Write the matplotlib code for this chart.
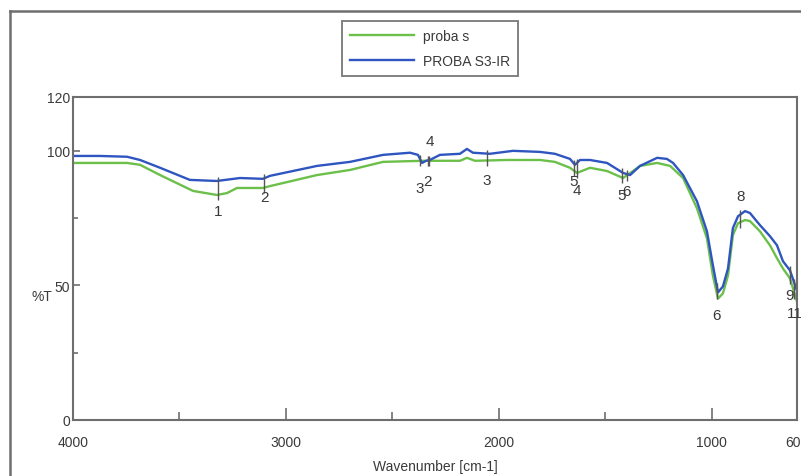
import numpy as np
import matplotlib
matplotlib.use("Agg")
import matplotlib.pyplot as plt
from matplotlib.lines import Line2D
from matplotlib.ticker import FixedLocator, NullFormatter

plt.rcParams['font.family'] = ['Liberation Sans', 'DejaVu Sans']

# "proba s" (green trace)
wn_s = [4000, 3746, 3685, 3591, 3436, 3324, 3277, 3230, 3108, 3075, 2854, 2699,
        2544, 2356, 2183, 2150, 2112, 1962, 1807, 1737, 1666, 1633, 1572, 1492,
        1417, 1370, 1337, 1257, 1196, 1135, 1070, 1023, 995, 971, 948, 924, 901,
        877, 844, 821, 774, 727, 694, 666, 633, 600]
t_s = [95.5, 95.5, 94.8, 91.0, 85.1, 83.6, 84.3, 86.2, 86.2, 86.9, 91.0, 92.9,
       95.9, 96.3, 96.3, 97.4, 96.3, 96.6, 96.6, 95.9, 93.7, 91.8, 93.7, 92.5,
       89.9, 92.5, 94.4, 95.5, 94.4, 89.9, 78.7, 67.5, 53.7, 45.1, 47.0, 53.7, 68.7,
       73.1, 74.3, 73.9, 70.1, 64.9, 60.1, 56.3, 52.6, 44.0]

# "PROBA S3-IR" (blue trace)
wn_ir = [4000, 3873, 3746, 3685, 3591, 3451, 3324, 3216, 3108, 3075, 2854, 2699,
         2544, 2417, 2380, 2361, 2342, 2324, 2277, 2183, 2150, 2122, 2042, 1934,
         1807, 1737, 1666, 1643, 1619, 1572, 1492, 1417, 1384, 1337, 1257, 1211,
         1182, 1135, 1070, 1023, 995, 971, 948, 924, 901, 877, 844, 821, 774, 727,
         694, 666, 633, 600]
t_ir = [98.1, 98.1, 97.8, 96.6, 93.7, 89.2, 88.8, 89.9, 89.6, 90.7, 94.4, 95.9,
        98.5, 99.3, 98.5, 95.5, 96.3, 96.6, 98.5, 98.9, 100.7, 99.3, 98.9, 100.0,
        99.6, 98.9, 97.0, 94.8, 96.6, 96.6, 95.5, 91.8, 91.0, 94.4, 97.4, 97.0,
        95.5, 91.0, 81.3, 70.1, 57.5, 47.4, 49.6, 56.3, 71.3, 75.7, 77.6, 76.9, 72.4,
        68.3, 64.9, 59.0, 55.6, 48.0]

# peak picks
peak_text = ["1", "2", "3", "2", "4", "3", "5", "4", "5", "6", "6", "8", "9", "11"]
peak_wn = [3318, 3103, 2370, 2333, 2326, 2056, 1648, 1634, 1424, 1400, 976, 866, 633, 612]
# label offset in pixels from the green trace
peak_dy = [-16, -9, -27, -20, 20, -20, -10, -17, -18, -16, -21, 26, -17, -20]

x_major = [4000, 3000, 2000, 1000, 600]
x_minor = [3500, 2500, 1500]
y_major = [0, 50, 100, 120]
y_minor = [25, 75]

GREEN = "#6cc04a"
BLUE = "#2f55c0"
FRAME = "#6e6e6e"
TXT = "#3a3a3a"

fig = plt.figure(figsize=(8.01, 4.77), dpi=100)
ax = fig.add_axes([73 / 801, 56 / 477, 724 / 801, 323 / 477])

l1, = ax.plot(wn_s, t_s, color=GREEN, lw=1.7, label="proba s")
l2, = ax.plot(wn_ir, t_ir, color=BLUE, lw=1.7, label="PROBA S3-IR")

# peak markers
g_at = np.interp(peak_wn, wn_s[::-1], t_s[::-1])
b_at = np.interp(peak_wn, wn_ir[::-1], t_ir[::-1])
for txt, w, dy, g, b in zip(peak_text, peak_wn, peak_dy, g_at, b_at):
    ax.vlines(w, min(g, b) - 2.0, max(g, b) + 1.5, color="#555555", lw=1.0)
    ax.annotate(txt, (w, g), xytext=(0, dy), textcoords="offset pixels",
                ha="center", va="center", fontsize=11, color=TXT)

ax.set_xlim(4000, 600)
ax.set_ylim(0, 120)
ax.xaxis.set_major_locator(FixedLocator(x_major))
ax.xaxis.set_minor_locator(FixedLocator(x_minor))
ax.xaxis.set_minor_formatter(NullFormatter())
ax.yaxis.set_major_locator(FixedLocator(y_major))
ax.yaxis.set_minor_locator(FixedLocator(y_minor))
ax.yaxis.set_minor_formatter(NullFormatter())

ax.tick_params(axis="x", which="major", direction="in", length=8.5, width=1.2,
               color=FRAME, labelsize=10, labelcolor=TXT, pad=11)
ax.tick_params(axis="x", which="minor", direction="in", length=6, width=1.2, color=FRAME)
ax.tick_params(axis="y", which="major", direction="in", length=5, width=1.2,
               color=FRAME, labelsize=10, labelcolor=TXT, pad=2)
ax.tick_params(axis="y", which="minor", direction="in", length=3.5, width=1.2, color=FRAME)

for s in ax.spines.values():
    s.set_color(FRAME)
    s.set_linewidth(1.5)

ax.set_xlabel("Wavenumber [cm-1]", fontsize=10, color=TXT, labelpad=7)
ax.set_ylabel("%T", fontsize=10, color=TXT, rotation=0, va="center", ha="center")
ax.yaxis.set_label_coords(-0.043, 0.384)

leg = fig.legend(handles=[l1, l2], loc="upper center",
                 bbox_to_anchor=(430 / 801, 1 - 22 / 477), fontsize=10,
                 frameon=True, fancybox=False, handlelength=4.6,
                 handletextpad=0.6, borderpad=0.6, labelspacing=0.75,
                 borderaxespad=0)
leg.get_frame().set_edgecolor("#555555")
leg.get_frame().set_linewidth(1.3)
for t in leg.get_texts():
    t.set_color(TXT)

# outer frame of the original figure window
fig.add_artist(Line2D([10 / 801, 10 / 801], [0, 1 - 12 / 477],
                      transform=fig.transFigure, color=FRAME, lw=1.8))
fig.add_artist(Line2D([10 / 801, 1], [1 - 12 / 477, 1 - 12 / 477],
                      transform=fig.transFigure, color=FRAME, lw=1.8))

fig.savefig("out.png", dpi=100)
